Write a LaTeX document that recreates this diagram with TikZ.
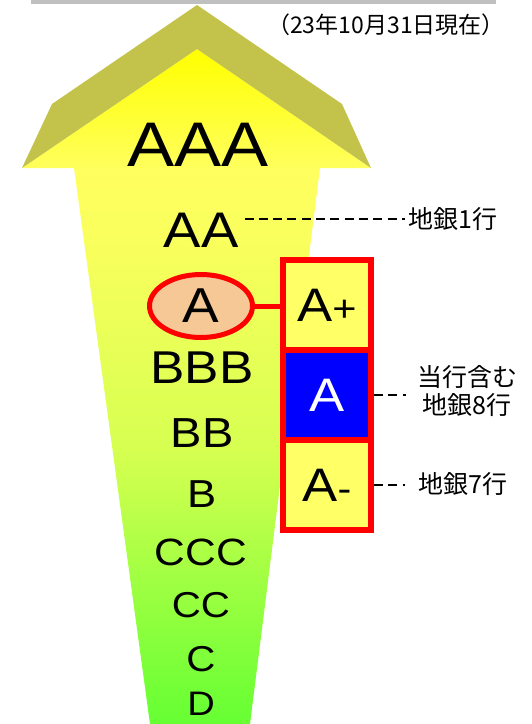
\documentclass[tikz,border=0pt]{standalone}
\usepackage{fontspec}
\setmainfont{Liberation Sans}
\newfontfamily\ratingfont{Liberation Sans}[FakeStretch=1.12]
\newfontfamily\jpfont{Noto Sans CJK JP}
\usetikzlibrary{shapes.geometric,positioning}

\definecolor{rulegray}{RGB}{192,192,192}
\definecolor{bevel}{RGB}{195,195,75}
\definecolor{peach}{RGB}{245,200,150}
\definecolor{boxyellow}{RGB}{255,255,102}
\definecolor{fadeTop}{RGB}{255,255,0}
\definecolor{fadeA}{RGB}{255,255,95}
\definecolor{fadeB}{RGB}{248,255,92}
\definecolor{fadeC}{RGB}{213,255,80}
\definecolor{fadeD}{RGB}{128,255,58}
\definecolor{fadeE}{RGB}{102,255,51}

% yellow to green, top to bottom of the arrow
\pgfdeclareverticalshading{arrowfade}{100bp}{color(0bp)=(fadeE); color(25bp)=(fadeE);
  color(30bp)=(fadeD); color(45bp)=(fadeC); color(60bp)=(fadeB); color(66bp)=(fadeA);
  color(75bp)=(fadeTop); color(100bp)=(fadeTop)}

\newcommand\gradesign[1]{{\fontsize{37}{37}\selectfont#1}}

\tikzset{
  rating/.style={font=\ratingfont\fontsize{#1}{#1}\selectfont, inner sep=0pt},
  gradebox/.style={draw=red, line width=6pt, fill=boxyellow, minimum width=88pt,
    minimum height=90pt, inner sep=0pt, outer sep=0pt,
    font=\ratingfont\fontsize{47}{47}\selectfont},
  leader/.style={draw=black, line width=1.3pt, dash pattern=on 9pt off 5.3pt},
  banklabel/.style={font=\jpfont\fontsize{25}{28}\selectfont, align=center, inner sep=0pt}
}

\begin{document}
\begin{tikzpicture}[x=1pt, y=-1pt]
    \useasboundingbox (0,0) rectangle (531,724);

    % the grey rule along the top and the date
    \fill[rulegray] (31,0) rectangle (496,4);
    \node[font=\jpfont\fontsize{23}{23}\selectfont, inner sep=0pt] (asof) at (386,25) {（23年10月31日現在）};

    % the arrow: the body first, then the bevel of the head on top
    \shade[shading=arrowfade] (197,49) -- (371,168) -- (320,168) -- (250,724)
        -- (150,724) -- (74,168) -- (22,168) -- cycle;
    \fill[bevel] (197,5) -- (342,104) -- (371,168) -- (197,49) -- (22,168) -- (52,104) -- cycle;

    % the ratings down the arrow
    \node[rating=63] (aaa) at (198,145) {AAA};
    \node[rating=50] (aa) at (201,230) {AA};
    \node[rating=49, ellipse, draw=red, line width=5pt, fill=peach,
          minimum width=103pt, minimum height=63pt] (acur) at (201,306) {A};
    \node[rating=46] (bbb) at (202,368) {BBB};
    \node[rating=42] (bb) at (202,433) {BB};
    \node[rating=39] (b) at (202,494) {B};
    \node[rating=38] (ccc) at (201,552) {CCC};
    \node[rating=36] (cc) at (201,605) {CC};
    \node[rating=36] (c) at (201,659) {C};
    \node[rating=34] (d) at (201,704) {D};

    % the three notches of A
    \node[gradebox] (aplus) at (327,305) {A\gradesign{+}};
    \node[gradebox, fill=blue, text=white, below=0pt of aplus] (amid) {A};
    \node[gradebox, below=0pt of amid] (aminus) {A\gradesign{-}};
    \draw[red, line width=5pt] (acur.east) -- (acur.east -| aplus.west);

    % the banks on the right
    \node[banklabel, anchor=west] (bank1) at (408,219) {地銀1行};
    \node[banklabel] (bank8) at (467,391) {当行含む\\地銀8行};
    \node[banklabel, anchor=west] (bank7) at (418,484) {地銀7行};

    \draw[leader, shorten <=6pt, shorten >=3pt] (aa.east |- bank1.west) -- (bank1.west);
    \draw[leader, shorten <=3pt, shorten >=11pt] (amid.east) -- (amid.east -| bank8.west);
    \draw[leader, shorten <=3pt, shorten >=13pt] (aminus.east) -- (aminus.east -| bank7.west);

\end{tikzpicture}
\end{document}
